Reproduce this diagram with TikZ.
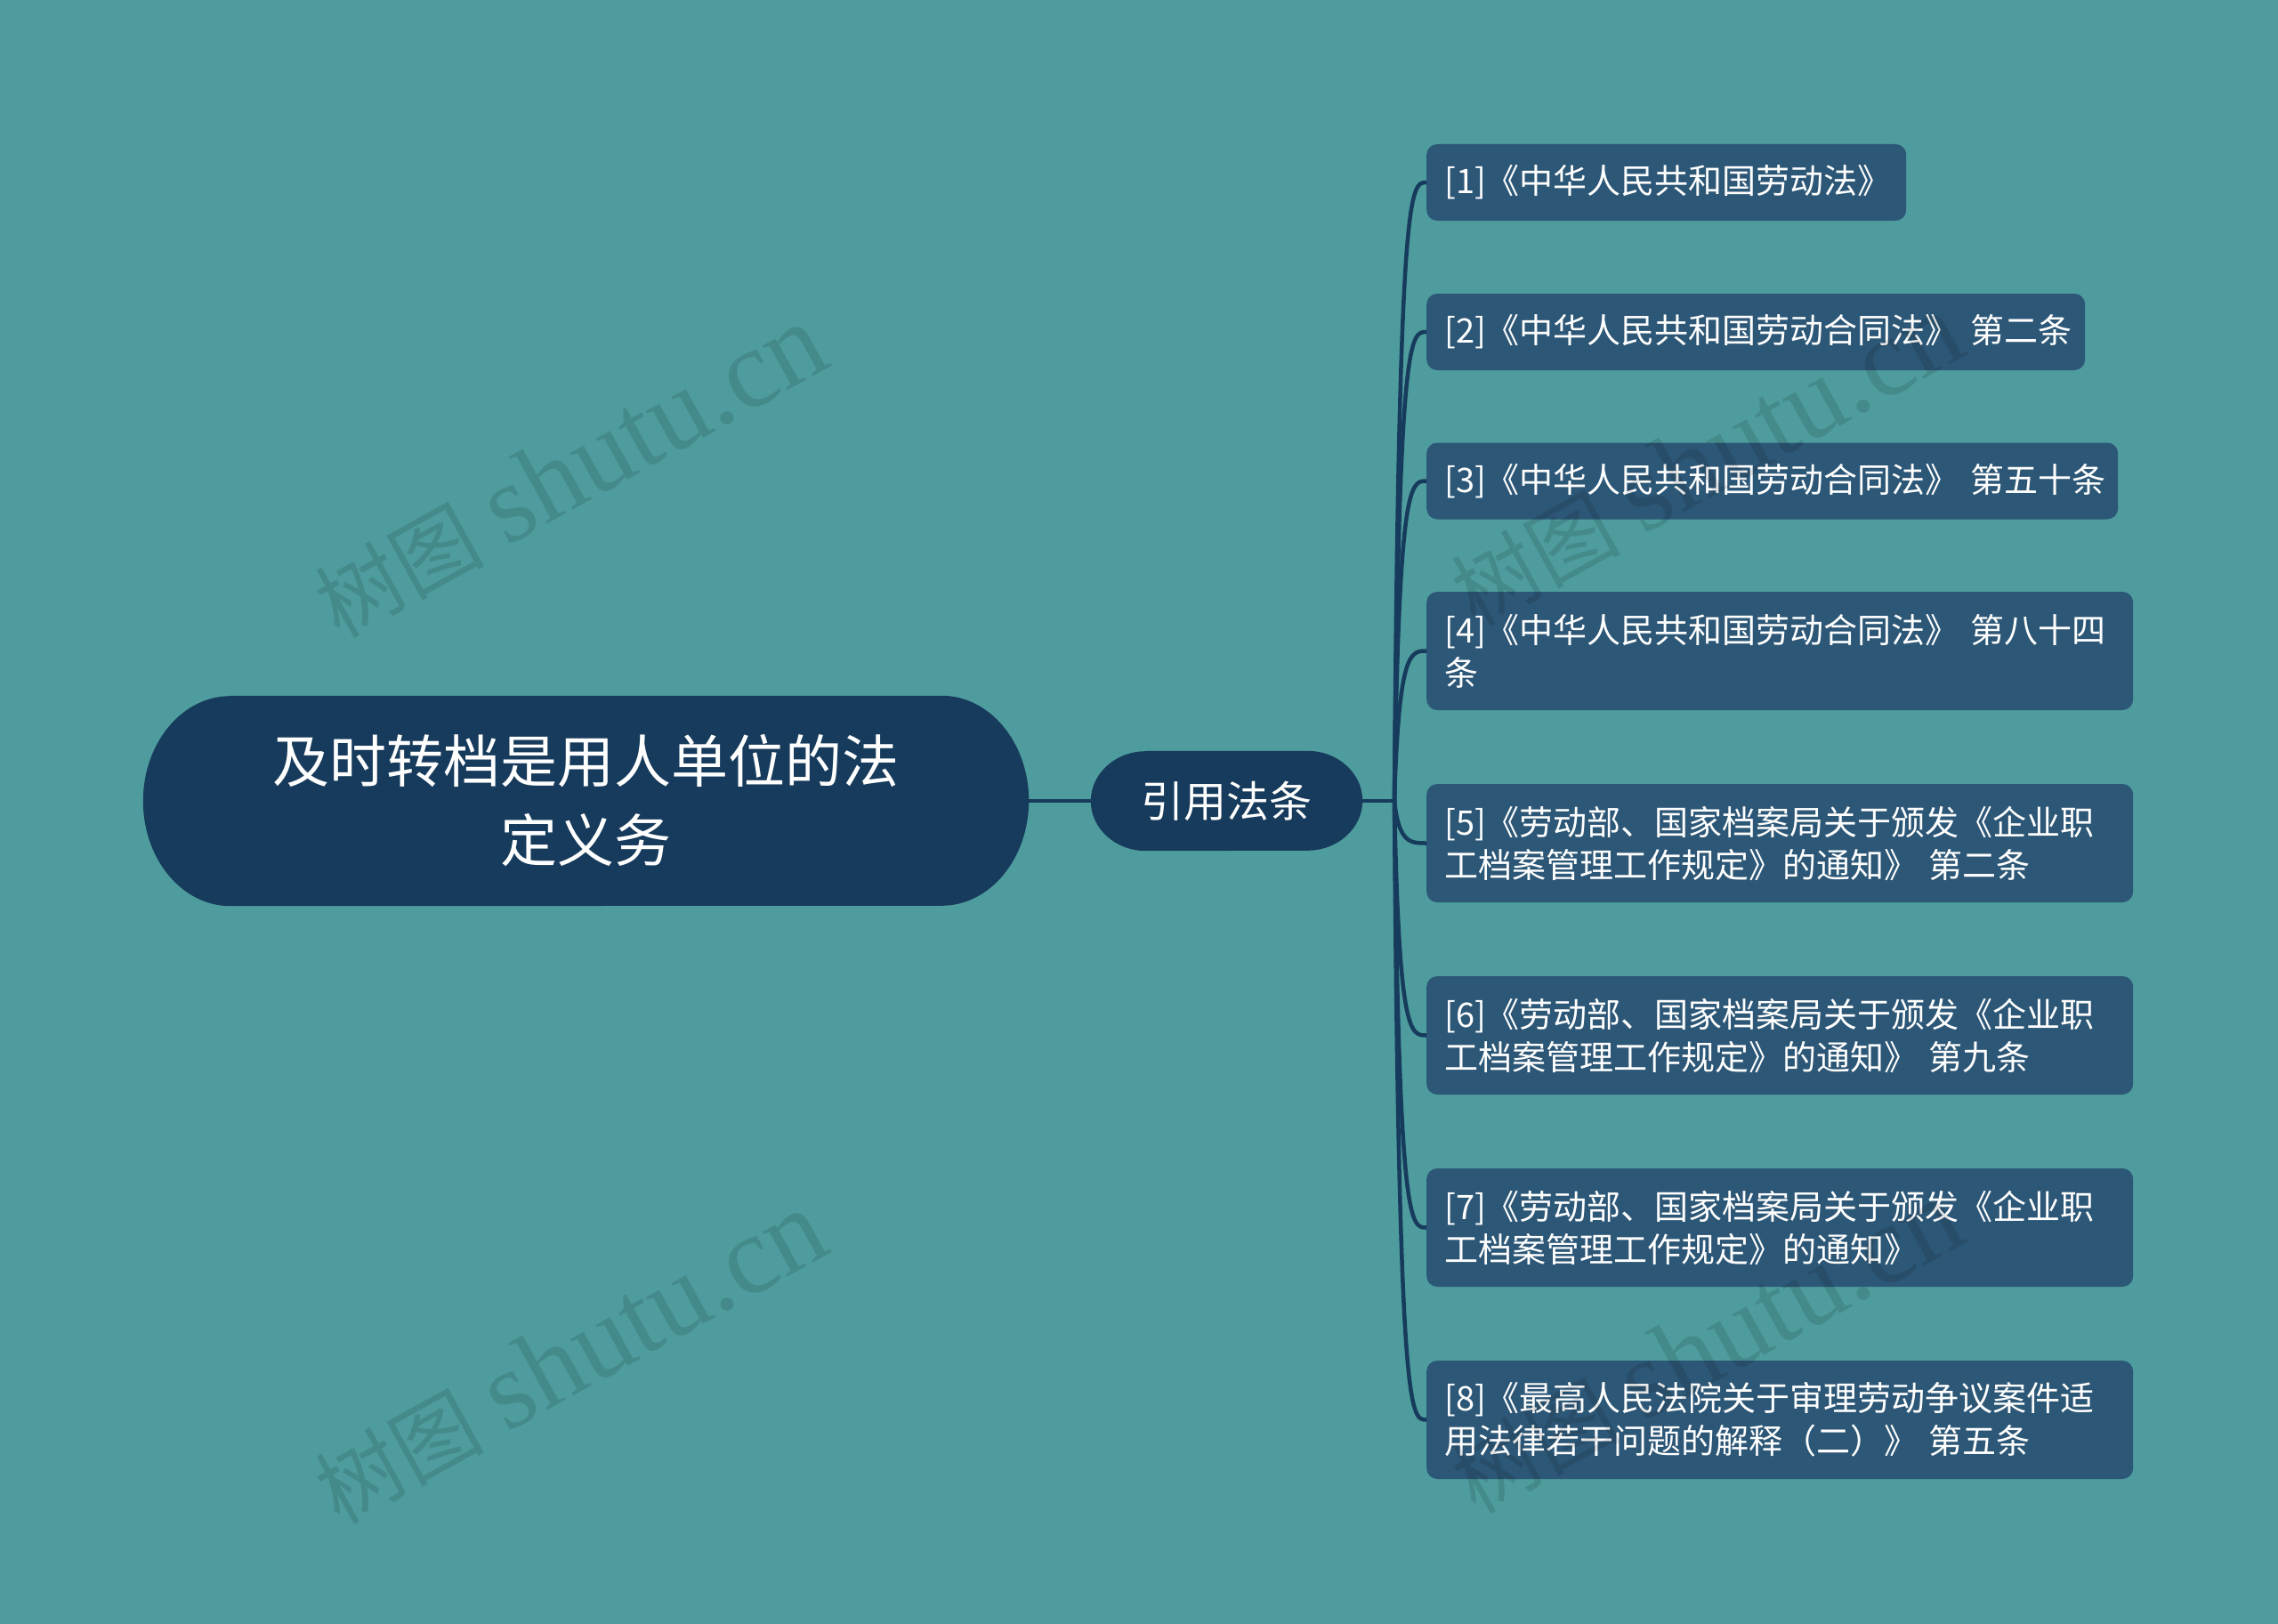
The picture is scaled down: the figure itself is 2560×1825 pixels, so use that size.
\documentclass[tikz,border=0pt]{standalone}
\usepackage{fontspec}
\newfontfamily\cjk{Noto Sans CJK SC}
\newfontfamily\wmserif{Liberation Serif}
\usetikzlibrary{backgrounds,calc}
\definecolor{bgteal}{RGB}{78,156,157}
\definecolor{rootblue}{RGB}{23,59,92}
\definecolor{leafblue}{RGB}{45,87,119}
\definecolor{linecol}{RGB}{23,59,92}
\newcommand{\wmtext}{{\cjk\fontsize{95}{100}\selectfont 树图}\hspace*{26pt}{\wmserif\fontsize{125}{130}\selectfont shutu.cn}}
\begin{document}
\begin{tikzpicture}[x=1pt,y=-1pt,
  rootnode/.style={minimum width=995pt, minimum height=236pt, inner sep=0pt, text=white, align=center, font=\cjk\fontsize{64}{89}\selectfont},
  midnode/.style={minimum width=305pt, minimum height=112pt, inner sep=0pt, text=white, font=\cjk\fontsize{48}{56}\selectfont},
  leafbox/.style={fill=leafblue, rounded corners=12pt, anchor=west, inner xsep=20pt, inner ysep=0pt, text=white, align=left, font=\cjk\fontsize{38}{48}\selectfont},
  conn/.style={draw=linecol, line width=4.5pt},
  wm/.style={text=black, text opacity=0.11, inner sep=0pt}
]
\useasboundingbox (0,0) rectangle (2560,1825);

\node[rootnode] (root) at (658.5,900) {及时转档是用人单位的法\\定义务};
\node[midnode] (mid) at (1378.5,900) {引用法条};
\coordinate (j) at (1567,900);

\node[leafbox, minimum height=86pt, text width=499pt] (l1) at (1603,205) {[1]《中华人民共和国劳动法》};
\node[leafbox, minimum height=86pt, text width=700pt] (l2) at (1603,373) {[2]《中华人民共和国劳动合同法》~第二条};
\node[leafbox, minimum height=86pt, text width=737pt] (l3) at (1603,540.5) {[3]《中华人民共和国劳动合同法》~第五十条};
\node[leafbox, minimum height=133pt, text width=754pt] (l4) at (1603,731.5) {[4]《中华人民共和国劳动合同法》~第八十四\\条};
\node[leafbox, minimum height=133pt, text width=754pt] (l5) at (1603,947.5) {[5]《劳动部、国家档案局关于颁发《企业职\\工档案管理工作规定》的通知》~第二条};
\node[leafbox, minimum height=133pt, text width=754pt] (l6) at (1603,1163.5) {[6]《劳动部、国家档案局关于颁发《企业职\\工档案管理工作规定》的通知》~第九条};
\node[leafbox, minimum height=133pt, text width=754pt] (l7) at (1603,1379.5) {[7]《劳动部、国家档案局关于颁发《企业职\\工档案管理工作规定》的通知》};
\node[leafbox, minimum height=133pt, text width=754pt] (l8) at (1603,1595.5) {[8]《最高人民法院关于审理劳动争议案件适\\用法律若干问题的解释（二）》~第五条};

\begin{scope}[on background layer]
  \fill[bgteal] (0,0) rectangle (2560,1825);
  \fill[rootblue] ([xshift=98pt]root.north west) -- ([xshift=-98pt]root.north east)
     arc[start angle=90, end angle=-90, x radius=98pt, y radius=118pt]
     -- ([xshift=98pt]root.south west)
     arc[start angle=270, end angle=90, x radius=98pt, y radius=118pt] -- cycle;
  \fill[rootblue] ([xshift=62pt]mid.north west) -- ([xshift=-62pt]mid.north east)
     arc[start angle=90, end angle=-90, x radius=62pt, y radius=56pt]
     -- ([xshift=62pt]mid.south west)
     arc[start angle=270, end angle=90, x radius=62pt, y radius=56pt] -- cycle;
\end{scope}

\draw[conn] (root.east) -- (mid.west);
\draw[conn] (mid.east) -- (j);
\foreach \i in {1,...,8} {
  \draw[conn] (j) .. controls ($(j |- l\i.west)+(5,0)$) and ($(j |- l\i.west)+(18,0)$) .. (l\i.west);
}

\node[wm, rotate=29] (wm1) at (640,530) {\wmtext};
\node[wm, rotate=29] (wm2) at (640,1526) {\wmtext};
\node[wm, rotate=29] (wm3) at (1917,517) {\wmtext};
\node[wm, rotate=29] (wm4) at (1917,1514) {\wmtext};
\end{tikzpicture}
\end{document}
